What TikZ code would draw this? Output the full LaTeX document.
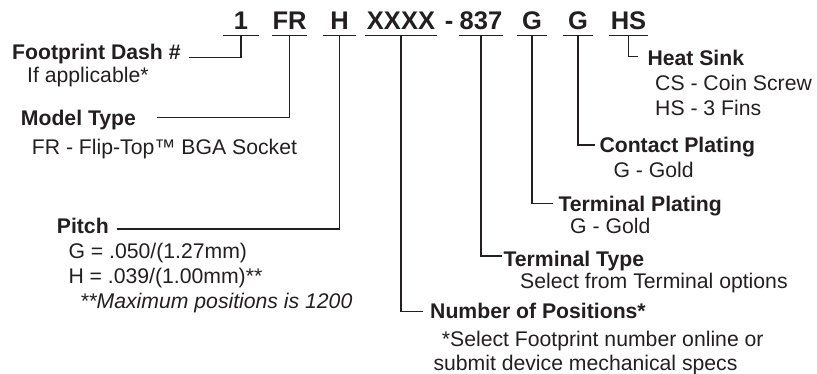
\documentclass[tikz,border=0pt]{standalone}
\usepackage{fontspec}
\setmainfont{Liberation Sans}
\newfontfamily\wf{Liberation Sans}
\definecolor{ink}{HTML}{231F20}
\begin{document}
\begin{tikzpicture}[x=1pt,y=-1pt]
\tikzset{
  ttl/.style={font=\wf\fontsize{25.5}{27}\bfseries, text=ink, inner sep=0pt, anchor=base, text depth=5.5pt},
  hd/.style={font=\wf\fontsize{21.2}{23}\bfseries, text=ink, inner sep=0pt, anchor=base west},
  tx/.style={font=\wf\fontsize{21.2}{23}\selectfont, text=ink, inner sep=0pt, anchor=base west},
  itx/.style={font=\wf\fontsize{21.2}{23}\itshape, text=ink, inner sep=0pt, anchor=base west},
  ln/.style={draw=ink, line width=1.4pt},
}
\useasboundingbox (0,0) rectangle (817,374);
% title parts
\node[ttl, minimum width=36pt] (t1) at (241,30) {1};
\node[ttl, minimum width=34pt] (tFR) at (289.5,30) {FR};
\node[ttl, minimum width=33pt] (tH) at (339.5,30) {H};
\node[ttl, minimum width=72pt] (tX) at (401,30) {XXXX};
\node[ttl] (tdash) at (449,30) {-};
\node[ttl, minimum width=44pt] (t837) at (481,30) {837};
\node[ttl, minimum width=30pt] (tG1) at (532,30) {G};
\node[ttl, minimum width=30pt] (tG2) at (578,30) {G};
\node[ttl, minimum width=39pt] (tHS) at (628.5,30) {HS};
\foreach \n in {t1,tFR,tH,tX,t837,tG1,tG2,tHS}
  \draw[ln] (\n.south west) -- (\n.south east);
% labels
\node[hd] (fp) at (12,60) {Footprint Dash \#};
\node[tx] (fp2) at (27,83) {If applicable*};
\node[hd] (mt) at (20.7,126) {Model Type};
\node[tx] (mt2) at (31.7,155) {FR - Flip-Top™ BGA Socket};
\node[hd] (pi) at (56.7,234) {Pitch};
\node[tx] (pi2) at (68.3,258.5) {G = .050/(1.27mm)};
\node[tx] (pi3) at (68.3,283.5) {H = .039/(1.00mm)**};
\node[itx] (pi4) at (80,308.5) {**Maximum positions is 1200};
\node[hd] (np) at (430,318.3) {Number of Positions*};
\node[tx] (np2) at (441.7,346.7) {*Select Footprint number online or};
\node[tx] (np3) at (433.3,370) {submit device mechanical specs};
\node[hd] (tt) at (503.3,266.5) {Terminal Type};
\node[tx] (tt2) at (520,288.3) {Select from Terminal options};
\node[hd] (tp) at (558.3,211.7) {Terminal Plating};
\node[tx] (tp2) at (570,233.3) {G - Gold};
\node[hd] (cp) at (599.3,153) {Contact Plating};
\node[tx] (cp2) at (613.3,178) {G - Gold};
\node[hd] (hs) at (647.3,66) {Heat Sink};
\node[tx] (hs2) at (655,90.5) {CS - Coin Screw};
\node[tx] (hs3) at (655,116) {HS - 3 Fins};
% connector ends
\coordinate (e1) at (189,57.5);
\coordinate (eFR) at (157,117.7);
\coordinate (eH) at (117,229);
\coordinate (eX) at (423,311.5);
\coordinate (e837) at (502,256);
\coordinate (eG1) at (553,203.3);
\coordinate (eG2) at (595,145);
\coordinate (eHS) at (638,56.7);
\draw[ln] (t1.south) |- (e1);
\draw[ln] (tFR.south) |- (eFR);
\draw[ln] (tH.south) |- (eH);
\draw[ln] (tX.south) |- (eX);
\draw[ln] (t837.south) |- (e837);
\draw[ln] (tG1.south) |- (eG1);
\draw[ln] (tG2.south) |- (eG2);
\draw[ln] (tHS.south) |- (eHS);
\end{tikzpicture}
\end{document}
